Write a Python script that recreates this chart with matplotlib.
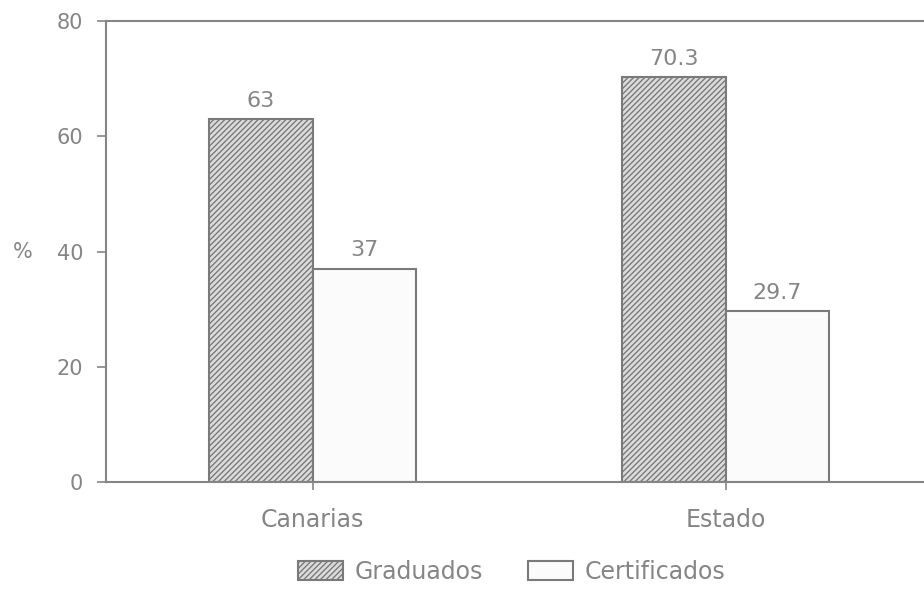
import matplotlib
matplotlib.use("Agg")
import matplotlib.pyplot as plt
import numpy as np

categories = ["Canarias", "Estado"]
series_names = ["Graduados", "Certificados"]
graduados = [63, 70.3]
certificados = [37, 29.7]
value_labels_grad = ["63", "70.3"]
value_labels_cert = ["37", "29.7"]
yticks = [0, 20, 40, 60, 80]

plt.rcParams['hatch.color'] = '#8a8a8a'
plt.rcParams['hatch.linewidth'] = 1.0
grey = '#858585'
textc = '#858585'

fig = plt.figure(figsize=(9.24, 5.97), dpi=100)
ax = fig.add_axes([106/924, (597-482)/597, 1 - 106/924, (482-21)/597])

x = np.arange(len(categories))
w = 0.25
b1 = ax.bar(x - w/2, graduados, w, facecolor='#dcdcdc', edgecolor='#7a7a7a',
            hatch='//////', linewidth=1.5, label=series_names[0])
b2 = ax.bar(x + w/2, certificados, w, facecolor='#fbfbfb', edgecolor='#7a7a7a',
            linewidth=1.5, label=series_names[1])

for bars, labs in ((b1, value_labels_grad), (b2, value_labels_cert)):
    for rect, lab in zip(bars, labs):
        ax.annotate(lab, (rect.get_x() + rect.get_width()/2, rect.get_height()),
                    xytext=(0, 6), textcoords='offset points',
                    ha='center', va='bottom', fontsize=16, color=textc)

ax.set_xlim(-0.5, 1.48)
ax.set_ylim(0, 80)
ax.set_yticks(yticks)
ax.set_yticklabels([str(t) for t in yticks], fontsize=15, color=textc)
ax.set_xticks(x)
ax.set_xticklabels(categories, fontsize=17, color=textc)
ax.tick_params(axis='x', length=6, width=1.2, color=grey, pad=13)
ax.tick_params(axis='y', length=6.5, width=1.2, color=grey, pad=10)

for s in ['left', 'top', 'bottom']:
    ax.spines[s].set_color(grey)
    ax.spines[s].set_linewidth(1.5)
ax.spines['right'].set_visible(False)

ax.set_ylabel('%', rotation=0, fontsize=15, color=textc, labelpad=24, va='center')

leg = fig.legend(handles=[b1, b2], labels=series_names, loc='center',
                 bbox_to_anchor=(512/924, 1 - 572/597), ncol=2, frameon=False,
                 fontsize=17, handlelength=1.9, handleheight=0.85, columnspacing=1.9,
                 handletextpad=0.5, borderpad=0.0)
for t in leg.get_texts():
    t.set_color(textc)

fig.savefig("out.png", dpi=100, facecolor='white')
